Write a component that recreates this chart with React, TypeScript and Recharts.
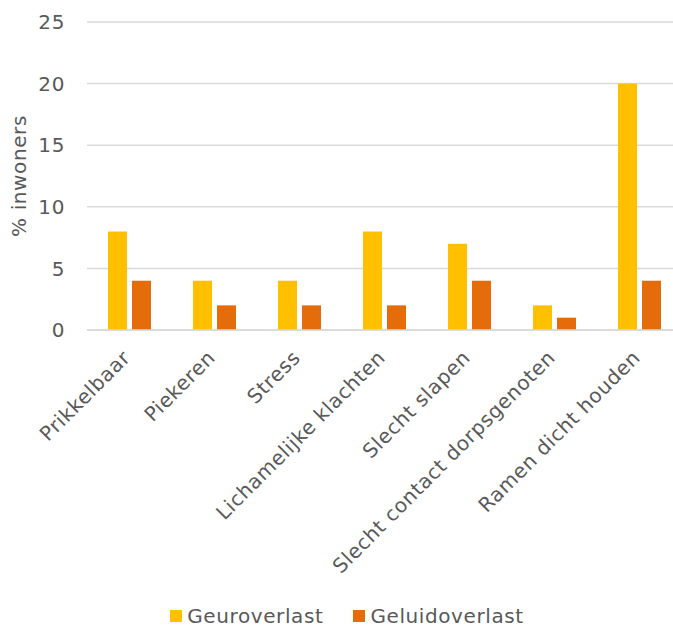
import React from "react"
import { Bar, BarChart, CartesianGrid, Legend, XAxis, YAxis } from "recharts"

const categories = [
  "Prikkelbaar",
  "Piekeren",
  "Stress",
  "Lichamelijke klachten",
  "Slecht slapen",
  "Slecht contact dorpsgenoten",
  "Ramen dicht houden",
]
const geuroverlast = [8, 4, 4, 8, 7, 2, 20]
const geluidoverlast = [4, 2, 2, 2, 4, 1, 4]
const yTicks = [0, 5, 10, 15, 20, 25]
const seriesOrder = ["Geuroverlast", "Geluidoverlast"]

const data = categories.map((name, i) => ({
  name,
  Geuroverlast: geuroverlast[i],
  Geluidoverlast: geluidoverlast[i],
}))

const FONT = "'DejaVu Sans', Verdana, sans-serif"
const TEXT = "#595959"
const FS = 20
const LS = 0.6

const XTick = (props: any) => {
  const { x, y, payload } = props
  const ax = x - 3
  const ay = y + 16
  return (
    <text
      x={ax}
      y={ay}
      transform={`rotate(-45, ${ax}, ${ay})`}
      textAnchor="end"
      dominantBaseline="central"
      fill={TEXT}
      fontSize={FS}
      letterSpacing={LS}
      fontFamily={FONT}
    >
      {payload.value}
    </text>
  )
}

const LegendContent = (props: any) => {
  const items = [...(props.payload || [])].sort(
    (a: any, b: any) => seriesOrder.indexOf(a.value) - seriesOrder.indexOf(b.value)
  )
  return (
    <div style={{ display: "flex", justifyContent: "center", gap: 30, marginLeft: 12, height: 24, lineHeight: "24px" }}>
      {items.map((item: any) => (
        <div key={item.value} style={{ display: "flex", alignItems: "center", gap: 5 }}>
          <div style={{ width: 12, height: 12, backgroundColor: item.color }}></div>
          <span style={{ color: TEXT, fontSize: FS, letterSpacing: LS, fontFamily: FONT }}>{item.value}</span>
        </div>
      ))}
    </div>
  )
}

export default function App() {
  return (
    <div style={{ position: "absolute", left: 0, top: 0, width: 673, height: 628, overflow: "hidden" }}>
      <BarChart
        width={682}
        height={628}
        data={data}
        margin={{ top: 22, right: 0, bottom: 0, left: 0 }}
        barSize={19}
        barGap={5}
      >
        <CartesianGrid vertical={false} stroke="#D9D9D9" strokeWidth={1.5} />
        <XAxis
          dataKey="name"
          interval={0}
          tick={<XTick />}
          tickLine={false}
          axisLine={{ stroke: "#D9D9D9", strokeWidth: 1.5 }}
          height={274}
        />
        <YAxis
          domain={[0, 25]}
          ticks={yTicks}
          width={87}
          tickLine={false}
          axisLine={false}
          tickMargin={16}
          tick={{ fill: TEXT, fontSize: FS, letterSpacing: LS, fontFamily: FONT }}
          label={{
            value: "% inwoners",
            angle: -90,
            position: "insideLeft",
            offset: 19,
            style: { fill: TEXT, fontSize: FS, letterSpacing: LS, fontFamily: FONT, textAnchor: "middle" },
          }}
        />
        <Legend verticalAlign="bottom" height={24} content={<LegendContent />} />
        <Bar dataKey="Geuroverlast" fill="#FFC000" isAnimationActive={false} />
        <Bar dataKey="Geluidoverlast" fill="#E46C0A" isAnimationActive={false} />
      </BarChart>
    </div>
  )
}
